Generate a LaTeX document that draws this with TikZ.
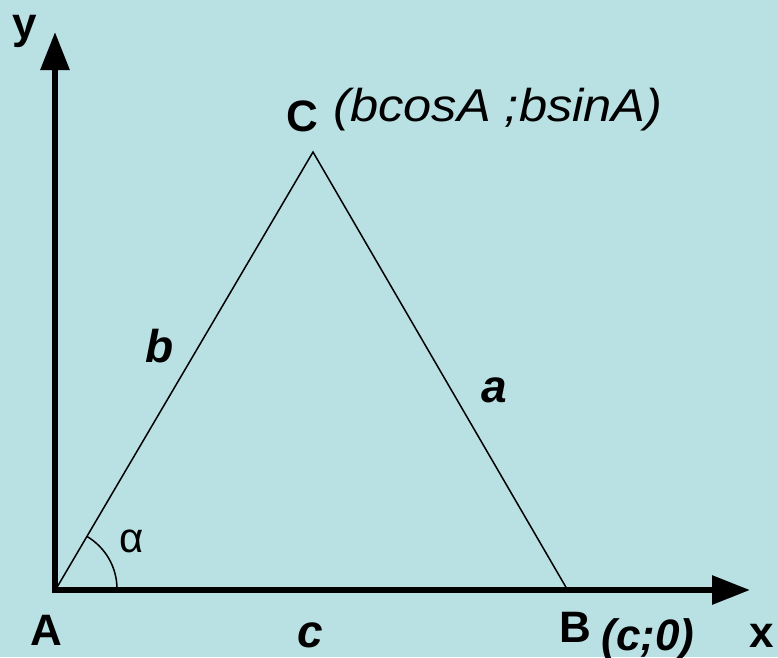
\documentclass[tikz,border=0pt]{standalone}
\usepackage{fontspec}
\setmainfont{Liberation Sans}
\usetikzlibrary{arrows.meta}
\definecolor{PaleBlue}{HTML}{B9E0E3}

\begin{document}
\begin{tikzpicture}[x=1pt, y=-1pt,
    axis/.style={line width=6pt, line join=miter},
    side/.style={line width=1.5pt},
    vlabel/.style={font=\fontsize{44}{48}\selectfont\bfseries, inner sep=0pt},
    slabel/.style={font=\fontsize{46}{50}\selectfont\bfseries\itshape, inner sep=0pt}]
    % Background
    \fill[PaleBlue] (0,0) rectangle (778,657);
    \useasboundingbox (0,0) rectangle (778,657);

    % Points
    \coordinate (O) at (55,590);
    \coordinate (ytip) at (55,32);
    \coordinate (xtip) at (750,590);
    \coordinate (A) at (56,589);
    \coordinate (B) at (567,589);
    \coordinate (C) at (313,152);

    % Axes
    \draw[axis, {Triangle[length=38pt, width=28pt]}-{Triangle[length=38pt, width=28pt]}] (ytip) |- (xtip);

    % Triangle
    \draw[side] (A) -- (C) -- (B);
    \draw[side] (A) ++(61,0) arc[start angle=0, end angle=-59.5, radius=61];

    % Labels
    \node[vlabel] (ylab) at (25,31) {y};
    \node[vlabel] (xlab) at (762,636) {x};
    \node[vlabel, anchor=base] (Alab) at (46,645) {A};
    \node[vlabel, anchor=base] (Blab) at (575,642) {B};
    \node[vlabel, font=\fontsize{44}{48}\selectfont\bfseries, anchor=base] (Clab) at (302,131) {C};
    \node[inner sep=0pt, font=\fontsize{46}{50}\selectfont\itshape, anchor=base] (Ccoord) at (498,121) {\scalebox{1.1}[1]{(bcosA ;bsinA)}};
    \node[slabel, font=\fontsize{44}{48}\selectfont\bfseries\itshape, anchor=base] (Bcoord) at (648,650) {(c;0)};
    \node[slabel] (clab) at (310,635) {c};
    \node[slabel] (blab) at (160,346) {b};
    \node[slabel] (alab) at (494,390) {a};
    \node[inner sep=0pt, font=\fontsize{42}{46}\selectfont] (alpha) at (132,541) {α};
\end{tikzpicture}
\end{document}
